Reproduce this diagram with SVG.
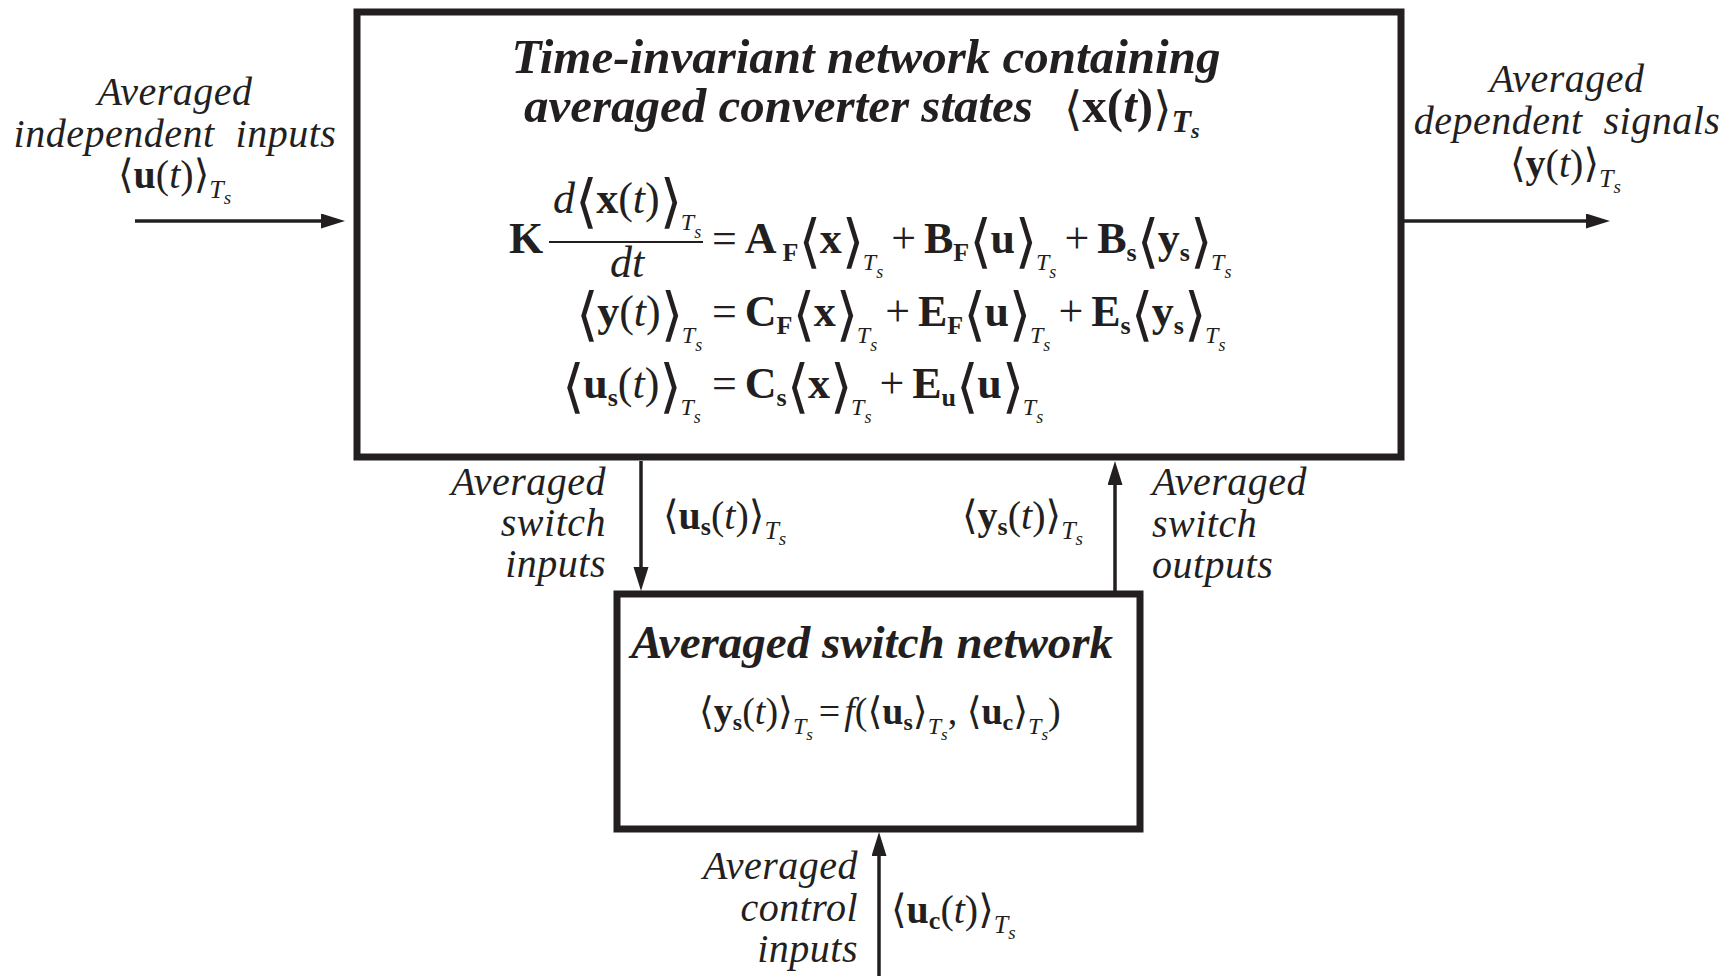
<svg xmlns="http://www.w3.org/2000/svg" width="1734" height="976" viewBox="0 0 1734 976">
<style>
.m{font-family:"Liberation Serif",serif;fill:#231f20}
.it{font-size:40px;font-style:italic;letter-spacing:0.5px}
.ttl{font-size:49px;font-weight:bold;font-style:italic}
.eqb{font-size:44px;font-weight:bold}
.sub{font-size:26px;font-weight:bold;font-style:normal}
.T{font-size:24px;font-style:italic;font-weight:normal}
.s2{font-size:18px;font-style:italic;font-weight:normal}
.bb{font-family:"DejaVu Sans",sans-serif;font-weight:normal;font-style:normal;font-size:58px;letter-spacing:-1.5px}
.sb{font-family:"DejaVu Sans",sans-serif;font-weight:normal;font-style:normal}
.n{font-weight:normal;font-style:normal}
.i{font-weight:normal;font-style:italic}
.b{font-weight:bold;font-style:normal}
.box{fill:none;stroke:#231f20;stroke-width:7}
.wire{stroke:#231f20;stroke-width:3.5;fill:none}
</style>
<defs>
<marker id="ah" markerUnits="userSpaceOnUse" markerWidth="26" markerHeight="16" refX="2" refY="7.5" orient="auto">
<path d="M0,0 L24,7.5 L0,15 z" fill="#231f20"/>
</marker>
</defs>

<g id="connectors">
<line class="wire" x1="135" y1="221" x2="323" y2="221" marker-end="url(#ah)"/>
<line class="wire" x1="1404" y1="221" x2="1588" y2="221" marker-end="url(#ah)"/>
<line class="wire" x1="641" y1="461" x2="641" y2="569" marker-end="url(#ah)"/>
<line class="wire" x1="1115" y1="591" x2="1115" y2="483" marker-end="url(#ah)"/>
<line class="wire" x1="879" y1="976" x2="879" y2="854" marker-end="url(#ah)"/>
</g>

<g id="main-network">
<rect class="box" x="357" y="12" width="1044" height="445"/>
<text class="m ttl" x="866" y="73" text-anchor="middle">Time-invariant network containing</text>
<text class="m ttl" x="524" y="122">averaged converter states<tspan class="sb" x="1064" font-size="47" dy="3">⟨</tspan><tspan dy="-3" font-style="normal">x(</tspan><tspan>t</tspan><tspan font-style="normal">)</tspan><tspan class="sb" font-size="47" dy="3">⟩</tspan><tspan font-size="32" dy="7">T</tspan><tspan font-size="22" dy="6">s</tspan></text>

<text class="m eqb" x="509" y="253">K</text>
<text class="m eqb" x="553" y="213"><tspan class="i">d</tspan><tspan class="bb" dy="8">⟨</tspan><tspan dy="-8">x</tspan><tspan class="n">(</tspan><tspan class="i">t</tspan><tspan class="n">)</tspan><tspan class="bb" dy="8">⟩</tspan><tspan class="T" dy="9">T</tspan><tspan class="s2" dy="8">s</tspan></text>
<line x1="549" y1="242" x2="703" y2="242" stroke="#231f20" stroke-width="2"/>
<text class="m eqb i" x="627" y="277" text-anchor="middle">dt</text>

<text class="m eqb" x="712" y="253"><tspan class="n">=</tspan><tspan dx="8">A</tspan><tspan class="sub" dx="6" dy="8">F</tspan><tspan class="bb">⟨</tspan><tspan dy="-8">x</tspan><tspan class="bb" dy="8">⟩</tspan><tspan class="T" dy="9">T</tspan><tspan class="s2" dy="8">s</tspan><tspan class="n" dy="-25" dx="8">+</tspan><tspan dx="8">B</tspan><tspan class="sub" dy="8">F</tspan><tspan class="bb">⟨</tspan><tspan dy="-8">u</tspan><tspan class="bb" dy="8">⟩</tspan><tspan class="T" dy="9">T</tspan><tspan class="s2" dy="8">s</tspan><tspan class="n" dy="-25" dx="8">+</tspan><tspan dx="8">B</tspan><tspan class="sub" dy="8">s</tspan><tspan class="bb">⟨</tspan><tspan dy="-8">y</tspan><tspan class="sub" dy="8">s</tspan><tspan class="bb">⟩</tspan><tspan class="T" dy="9">T</tspan><tspan class="s2" dy="8">s</tspan></text>

<text class="m eqb" x="576" y="326"><tspan class="bb" dy="8">⟨</tspan><tspan dy="-8">y</tspan><tspan class="n">(</tspan><tspan class="i">t</tspan><tspan class="n">)</tspan><tspan class="bb" dy="8">⟩</tspan><tspan class="T" dy="9">T</tspan><tspan class="s2" dy="8">s</tspan></text>
<text class="m eqb" x="712" y="326"><tspan class="n">=</tspan><tspan dx="8">C</tspan><tspan class="sub" dy="8">F</tspan><tspan class="bb">⟨</tspan><tspan dy="-8">x</tspan><tspan class="bb" dy="8">⟩</tspan><tspan class="T" dy="9">T</tspan><tspan class="s2" dy="8">s</tspan><tspan class="n" dy="-25" dx="8">+</tspan><tspan dx="8">E</tspan><tspan class="sub" dy="8">F</tspan><tspan class="bb">⟨</tspan><tspan dy="-8">u</tspan><tspan class="bb" dy="8">⟩</tspan><tspan class="T" dy="9">T</tspan><tspan class="s2" dy="8">s</tspan><tspan class="n" dy="-25" dx="8">+</tspan><tspan dx="8">E</tspan><tspan class="sub" dy="8">s</tspan><tspan class="bb">⟨</tspan><tspan dy="-8">y</tspan><tspan class="sub" dy="8">s</tspan><tspan class="bb">⟩</tspan><tspan class="T" dy="9">T</tspan><tspan class="s2" dy="8">s</tspan></text>

<text class="m eqb" x="562" y="398"><tspan class="bb" dy="8">⟨</tspan><tspan dy="-8">u</tspan><tspan class="sub" dy="8">s</tspan><tspan class="n" dy="-8">(</tspan><tspan class="i">t</tspan><tspan class="n">)</tspan><tspan class="bb" dy="8">⟩</tspan><tspan class="T" dy="9">T</tspan><tspan class="s2" dy="8">s</tspan></text>
<text class="m eqb" x="712" y="398"><tspan class="n">=</tspan><tspan dx="8">C</tspan><tspan class="sub" dy="8">s</tspan><tspan class="bb">⟨</tspan><tspan dy="-8">x</tspan><tspan class="bb" dy="8">⟩</tspan><tspan class="T" dy="9">T</tspan><tspan class="s2" dy="8">s</tspan><tspan class="n" dy="-25" dx="8">+</tspan><tspan dx="8">E</tspan><tspan class="sub" dy="8">u</tspan><tspan class="bb">⟨</tspan><tspan dy="-8">u</tspan><tspan class="bb" dy="8">⟩</tspan><tspan class="T" dy="9">T</tspan><tspan class="s2" dy="8">s</tspan></text>
</g>

<g id="switch-network">
<rect class="box" x="617" y="594" width="523" height="235"/>
<text class="m" x="872" y="658" text-anchor="middle" font-size="47" font-weight="bold" font-style="italic">Averaged switch network</text>
<text class="m" x="699" y="724" font-size="38"><tspan class="sb">⟨</tspan><tspan class="b">y</tspan><tspan class="b" font-size="24" dy="6">s</tspan><tspan dy="-6">(</tspan><tspan class="i">t</tspan>)<tspan class="sb">⟩</tspan><tspan class="i" font-size="24" dy="10">T</tspan><tspan class="i" font-size="17" dy="6">s</tspan><tspan dy="-16" dx="6">=</tspan><tspan class="i" dx="4">f</tspan>(<tspan class="sb">⟨</tspan><tspan class="b">u</tspan><tspan class="b" font-size="24" dy="6">s</tspan><tspan class="sb" dy="-6">⟩</tspan><tspan class="i" font-size="24" dy="10">T</tspan><tspan class="i" font-size="17" dy="6">s</tspan><tspan dy="-16">, </tspan><tspan class="sb">⟨</tspan><tspan class="b">u</tspan><tspan class="b" font-size="24" dy="6">c</tspan><tspan class="sb" dy="-6">⟩</tspan><tspan class="i" font-size="24" dy="10">T</tspan><tspan class="i" font-size="17" dy="6">s</tspan><tspan dy="-16">)</tspan></text>
</g>

<g id="label-independent-inputs">
<text class="m it" text-anchor="middle"><tspan x="175" y="105">Averaged</tspan><tspan x="175" y="147">independent&#160; inputs</tspan></text>
<text class="m" x="118" y="188" font-size="40"><tspan class="sb">⟨</tspan><tspan class="b">u</tspan>(<tspan class="i">t</tspan>)<tspan class="sb">⟩</tspan><tspan class="i" font-size="26" dy="10">T</tspan><tspan class="i" font-size="19" dy="6">s</tspan></text>
</g>

<g id="label-dependent-signals">
<text class="m it" text-anchor="middle"><tspan x="1567" y="92">Averaged</tspan><tspan x="1567" y="134">dependent&#160; signals</tspan></text>
<text class="m" x="1510" y="177" font-size="40"><tspan class="sb">⟨</tspan><tspan class="b">y</tspan>(<tspan class="i">t</tspan>)<tspan class="sb">⟩</tspan><tspan class="i" font-size="26" dy="10">T</tspan><tspan class="i" font-size="19" dy="6">s</tspan></text>
</g>

<g id="label-switch-inputs">
<text class="m it" text-anchor="end"><tspan x="606" y="495">Averaged</tspan><tspan x="606" y="536">switch</tspan><tspan x="606" y="577">inputs</tspan></text>
<text class="m" x="663" y="529" font-size="40"><tspan class="sb">⟨</tspan><tspan class="b">u</tspan><tspan class="b" font-size="26" dy="6">s</tspan><tspan dy="-6">(</tspan><tspan class="i">t</tspan>)<tspan class="sb">⟩</tspan><tspan class="i" font-size="26" dy="10">T</tspan><tspan class="i" font-size="19" dy="6">s</tspan></text>
</g>

<g id="label-switch-outputs">
<text class="m it"><tspan x="1152" y="495">Averaged</tspan><tspan x="1152" y="537">switch</tspan><tspan x="1152" y="578">outputs</tspan></text>
<text class="m" x="962" y="529" font-size="40"><tspan class="sb">⟨</tspan><tspan class="b">y</tspan><tspan class="b" font-size="26" dy="6">s</tspan><tspan dy="-6">(</tspan><tspan class="i">t</tspan>)<tspan class="sb">⟩</tspan><tspan class="i" font-size="26" dy="10">T</tspan><tspan class="i" font-size="19" dy="6">s</tspan></text>
</g>

<g id="label-control-inputs">
<text class="m it" text-anchor="end"><tspan x="858" y="879">Averaged</tspan><tspan x="858" y="921">control</tspan><tspan x="858" y="962">inputs</tspan></text>
<text class="m" x="891" y="923" font-size="40"><tspan class="sb">⟨</tspan><tspan class="b">u</tspan><tspan class="b" font-size="26" dy="6">c</tspan><tspan dy="-6">(</tspan><tspan class="i">t</tspan>)<tspan class="sb">⟩</tspan><tspan class="i" font-size="26" dy="10">T</tspan><tspan class="i" font-size="19" dy="6">s</tspan></text>
</g>
</svg>
